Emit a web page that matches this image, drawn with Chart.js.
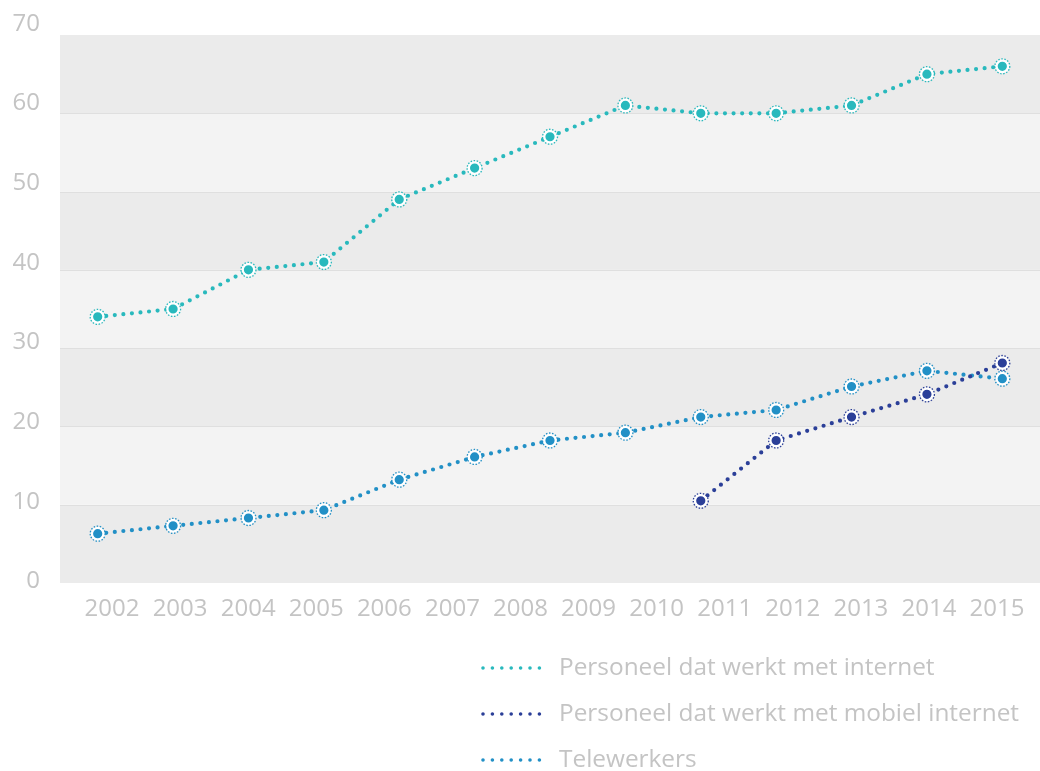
<!DOCTYPE html>
<html>
<head>
<meta charset="utf-8">
<script src="https://cdn.jsdelivr.net/npm/chart.js@4.4.1/dist/chart.umd.min.js"></script>
<style>
  html, body { margin: 0; padding: 0; background: #ffffff; }
  #wrap { width: 1040px; height: 771px; position: relative; }
</style>
</head>
<body>
<div id="wrap"><canvas id="c" width="1040" height="771"></canvas></div>
<script>
// ---- data ----
const categories = ['p1','p2','p3','p4','p5','p6','p7','p8','p9','p10','p11','p12','p13'];
const yearLabels = [2002, 2003, 2004, 2005, 2006, 2007, 2008, 2009, 2010, 2011, 2012, 2013, 2014, 2015];
const yTicks = [0, 10, 20, 30, 40, 50, 60, 70];
const internetValues = [34, 35, 40, 41, 49, 53, 57, 61, 60, 60, 61, 65, 66];
const mobielValues = [null, null, null, null, null, null, null, null, 10.5, 18.2, 21.2, 24.1, 28.1];
const telewerkersValues = [6.3, 7.3, 8.3, 9.3, 13.2, 16.1, 18.2, 19.2, 21.2, 22.1, 25.1, 27.1, 26.1];
const seriesNames = ['Personeel dat werkt met internet', 'Personeel dat werkt met mobiel internet', 'Telewerkers'];

const colInternet = '#29b9bd';
const colMobiel = '#2b3f98';
const colTele = '#2290c6';
const labelColor = '#c4c4c4';
const FONT = "'Open Sans', 'DejaVu Sans', sans-serif";

function ds(label, data, color) {
  return {
    label, data,
    borderColor: color,
    backgroundColor: color,
    borderWidth: 4.2,
    borderDash: [0, 8.6],
    borderCapStyle: 'round',
    tension: 0,
    spanGaps: false,
    pointRadius: 5.8,
    pointBackgroundColor: color,
    pointBorderColor: '#ffffff',
    pointBorderWidth: 2.4,
    pointHoverRadius: 5.8,
    xAxisID: 'x',
    yAxisID: 'y'
  };
}

const bandsPlugin = {
  id: 'bands',
  beforeDatasetsDraw(chart) {
    const { ctx, chartArea, scales } = chart;
    const y = scales.y;
    ctx.save();
    for (let i = 0; i < yTicks.length - 1; i++) {
      const top = y.getPixelForValue(yTicks[i + 1]);
      const bot = y.getPixelForValue(yTicks[i]);
      ctx.fillStyle = (i % 2 === 0) ? '#ebebeb' : '#f3f3f3';
      ctx.fillRect(chartArea.left, top, chartArea.right - chartArea.left, bot - top);
    }
    ctx.strokeStyle = '#dfdfdf';
    ctx.lineWidth = 1;
    for (let i = 1; i < yTicks.length - 1; i++) {
      const py = Math.round(y.getPixelForValue(yTicks[i])) + 0.5;
      ctx.beginPath();
      ctx.moveTo(chartArea.left, py);
      ctx.lineTo(chartArea.right, py);
      ctx.stroke();
    }
    ctx.restore();
  }
};

const ringPlugin = {
  id: 'rings',
  afterDatasetsDraw(chart) {
    const { ctx } = chart;
    ctx.save();
    chart.data.datasets.forEach((d, di) => {
      const meta = chart.getDatasetMeta(di);
      meta.data.forEach((pt, i) => {
        if (d.data[i] === null || d.data[i] === undefined) return;
        ctx.beginPath();
        ctx.setLineDash([1.5, 1.6]);
        ctx.lineWidth = 1.3;
        ctx.strokeStyle = d.borderColor;
        ctx.arc(pt.x, pt.y, 7.5, 0, Math.PI * 2);
        ctx.stroke();
      });
    });
    ctx.restore();
  }
};

const legendPlugin = {
  id: 'customLegend',
  afterDraw(chart) {
    const { ctx } = chart;
    const rows = [668, 714, 760];
    ctx.save();
    chart.data.datasets.forEach((d, i) => {
      const yy = rows[i];
      ctx.beginPath();
      ctx.setLineDash([0, 9.4]);
      ctx.lineCap = 'round';
      ctx.lineWidth = 3.6;
      ctx.strokeStyle = d.borderColor;
      ctx.moveTo(483, yy);
      ctx.lineTo(541, yy);
      ctx.stroke();
      ctx.setLineDash([]);
      ctx.fillStyle = labelColor;
      ctx.font = "400 24.4px " + FONT;
      ctx.textBaseline = 'middle';
      ctx.textAlign = 'left';
      ctx.fillText(d.label, 559, yy);
    });
    ctx.restore();
  }
};

function noPad(scale) {
  scale.paddingLeft = 0;
  scale.paddingRight = 0;
  scale.paddingTop = 0;
  scale.paddingBottom = 0;
}

new Chart(document.getElementById('c'), {
  type: 'line',
  data: {
    labels: categories,
    datasets: [
      ds(seriesNames[0], internetValues, colInternet),
      ds(seriesNames[1], mobielValues, colMobiel),
      ds(seriesNames[2], telewerkersValues, colTele)
    ]
  },
  options: {
    responsive: false,
    animation: false,
    layout: { autoPadding: false, padding: { top: 35, right: 0, bottom: 148, left: 0 } },
    plugins: {
      legend: { display: false },
      tooltip: { enabled: false }
    },
    scales: {
      x: { type: 'category', display: false, offset: true },
      y: { type: 'linear', display: false, min: 0, max: 70 },
      xl: {
        type: 'linear',
        position: 'bottom',
        min: 2001.236,
        max: 2015.631,
        grid: { display: false, drawTicks: false },
        border: { display: false },
        afterBuildTicks(scale) { scale.ticks = yearLabels.map(v => ({ value: v })); },
        afterFit(scale) { scale.height = 40; noPad(scale); },
        ticks: {
          autoSkip: false,
          maxRotation: 0,
          padding: 12,
          color: labelColor,
          font: { family: FONT, size: 24, weight: '400' },
          callback: (v) => String(v)
        }
      },
      yl: {
        type: 'linear',
        position: 'left',
        min: -0.188,
        max: 68.62,
        grid: { display: false, drawTicks: false },
        border: { display: false },
        afterBuildTicks(scale) { scale.ticks = yTicks.map(v => ({ value: v })); },
        afterFit(scale) { scale.width = 60; noPad(scale); },
        ticks: {
          autoSkip: false,
          padding: 20,
          color: labelColor,
          font: { family: FONT, size: 24, weight: '400' },
          callback: (v) => String(v)
        }
      }
    }
  },
  plugins: [bandsPlugin, ringPlugin, legendPlugin]
});
</script>
</body>
</html>
